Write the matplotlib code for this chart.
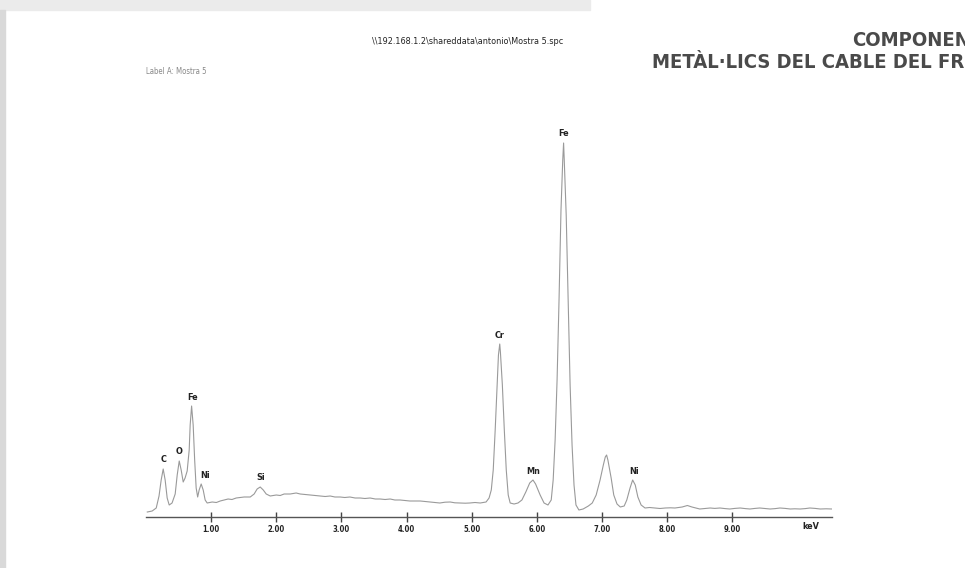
import matplotlib.pyplot as plt
from matplotlib.patches import Rectangle

# =====================================================
# DATA
# =====================================================

kev = [0.02, 0.095, 0.157, 0.20, 0.233, 0.264, 0.294, 0.325, 0.356, 0.40,
       0.448, 0.479, 0.51, 0.54, 0.571, 0.60, 0.632, 0.663, 0.678, 0.70,
       0.724, 0.747, 0.77, 0.793, 0.816, 0.847, 0.878, 0.908, 0.939, 1.016,
       1.08, 1.139, 1.20, 1.26, 1.32, 1.384, 1.44, 1.507, 1.60, 1.66,
       1.706, 1.753, 1.80, 1.845, 1.907, 2.0, 2.06, 2.12, 2.213, 2.305,
       2.367, 2.44, 2.52, 2.60, 2.674, 2.75, 2.827, 2.90, 2.98, 3.05,
       3.13, 3.21, 3.287, 3.36, 3.44, 3.52, 3.594, 3.67, 3.748, 3.82,
       3.90, 3.98, 4.05, 4.13, 4.21, 4.28, 4.36, 4.44, 4.51, 4.59,
       4.67, 4.74, 4.82, 4.90, 4.97, 5.05, 5.13, 5.22, 5.266, 5.30,
       5.33, 5.36, 5.39, 5.41, 5.43, 5.44, 5.47, 5.50, 5.53, 5.56,
       5.59, 5.65, 5.71, 5.77, 5.83, 5.89, 5.94, 5.98, 6.05, 6.11,
       6.17, 6.22, 6.25, 6.28, 6.31, 6.34, 6.37, 6.397, 6.41, 6.42,
       6.45, 6.48, 6.51, 6.54, 6.57, 6.60, 6.645, 6.71, 6.79, 6.85,
       6.91, 6.97, 7.02, 7.05, 7.07, 7.09, 7.14, 7.18, 7.23, 7.28,
       7.34, 7.38, 7.43, 7.47, 7.51, 7.55, 7.60, 7.66, 7.73, 7.81,
       7.89, 7.97, 8.05, 8.12, 8.23, 8.31, 8.38, 8.44, 8.5, 8.58,
       8.66, 8.73, 8.81, 8.89, 8.96, 9.04, 9.12, 9.20, 9.27, 9.35,
       9.42, 9.50, 9.58, 9.66, 9.73, 9.81, 9.89, 9.96, 10.04, 10.12,
       10.19, 10.27, 10.35, 10.44, 10.53]

counts = [50, 60, 90, 210, 370, 480, 370, 190, 120, 140,
          230, 420, 560, 470, 350, 390, 460, 670, 920, 1110,
          920, 570, 290, 200, 270, 330, 270, 170, 140, 150,
          145, 160, 170, 180, 175, 190, 195, 200, 200, 230,
          280, 300, 270, 230, 210, 220, 215, 230, 230, 240,
          230, 225, 220, 215, 210, 205, 210, 200, 200, 195,
          200, 190, 190, 185, 190, 180, 180, 175, 180, 170,
          170, 165, 160, 160, 160, 155, 150, 145, 140, 148,
          150, 142, 140, 138, 140, 145, 140, 150, 190, 270,
          470, 870, 1320, 1620, 1730, 1650, 1320, 870, 470, 220,
          140, 130, 140, 170, 250, 340, 370, 330, 220, 140,
          120, 170, 370, 770, 1370, 2170, 3070, 3570, 3740, 3570,
          3020, 2170, 1320, 720, 320, 120, 70, 80, 110, 140,
          220, 370, 520, 600, 620, 570, 390, 220, 130, 100,
          110, 170, 290, 370, 320, 200, 120, 90, 95, 90,
          85, 90, 92, 90, 100, 115, 100, 90, 80, 85,
          90, 86, 90, 84, 80, 86, 90, 84, 80, 86,
          90, 85, 80, 84, 90, 86, 80, 82, 80, 84,
          90, 86, 80, 82, 80]

peak_labels = ["C", "O", "Fe", "Ni", "Si", "Cr", "Mn", "Fe", "Ni"]
peak_kev = [0.264, 0.51, 0.72, 0.90, 1.753, 5.43, 5.94, 6.41, 7.49]
peak_counts = [480, 560, 1110, 330, 300, 1730, 370, 3740, 370]

tick_vals = [1, 2, 3, 4, 5, 6, 7, 8, 9]
tick_labels = ["1.00", "2.00", "3.00", "4.00", "5.00",
               "6.00", "7.00", "8.00", "9.00"]

COND = dict(family="DejaVu Sans", fontstretch="condensed")

# =====================================================
# FIGURE
# =====================================================

fig = plt.figure(figsize=(9.65, 5.68), dpi=100)
fig.patch.set_facecolor("white")

# page shadow strips of the screenshot
fig.patches.append(Rectangle((0, 1 - 10 / 568), 590 / 965, 10 / 568,
                             transform=fig.transFigure,
                             color="#ebebeb", zorder=0))
fig.patches.append(Rectangle((0, 0), 5 / 965, 1 - 10 / 568,
                             transform=fig.transFigure,
                             color="#d9d9d9", zorder=0))

ax = fig.add_axes([146 / 965, 51 / 568, 686 / 965, 400 / 568])
ax.set_facecolor("none")

ax.plot(kev, counts, color="#9a9a9a", linewidth=0.8)

for lab, x, y in zip(peak_labels, peak_kev, peak_counts):
    ax.text(x, y + 45, lab, ha="center", va="bottom",
            fontsize=6.5, fontweight="bold", color="#222222", **COND)

ax.set_xlim(0, 10.53)
ax.set_ylim(0, 4000)

for s in ["top", "left", "right"]:
    ax.spines[s].set_visible(False)
ax.spines["bottom"].set_color("#555555")
ax.spines["bottom"].set_linewidth(1)

ax.set_yticks([])
ax.set_xticks(tick_vals)
ax.set_xticklabels(tick_labels, fontsize=5.5, fontweight="bold", **COND)
ax.tick_params(axis="x", direction="inout", length=7, width=1,
               color="#444444", labelcolor="#222222", pad=2)

ax.text(10.2, -0.013, "keV", transform=ax.get_xaxis_transform(),
        ha="center", va="top", fontsize=6.5, fontweight="bold",
        color="#222222", **COND)

# header texts
fig.text(372 / 965, 1 - 42 / 568,
         "\\\\192.168.1.2\\shareddata\\antonio\\Mostra 5.spc",
         ha="left", va="center", fontsize=6.5, color="#222222", **COND)
fig.text(146 / 965, 1 - 71 / 568, "Label A: Mostra 5",
         ha="left", va="center", fontsize=5.6, color="#888888", **COND)

fig.text(852 / 965, 1 - 40 / 568, "COMPONENTS",
         ha="left", va="center", fontsize=14.5, fontweight="bold",
         color="#4a4a4a", **COND)
fig.text(652 / 965, 1 - 62 / 568, "METÀL·LICS DEL CABLE DEL FRE",
         ha="left", va="center", fontsize=14.5, fontweight="bold",
         color="#4a4a4a", **COND)

plt.savefig("out.png", dpi=100)
